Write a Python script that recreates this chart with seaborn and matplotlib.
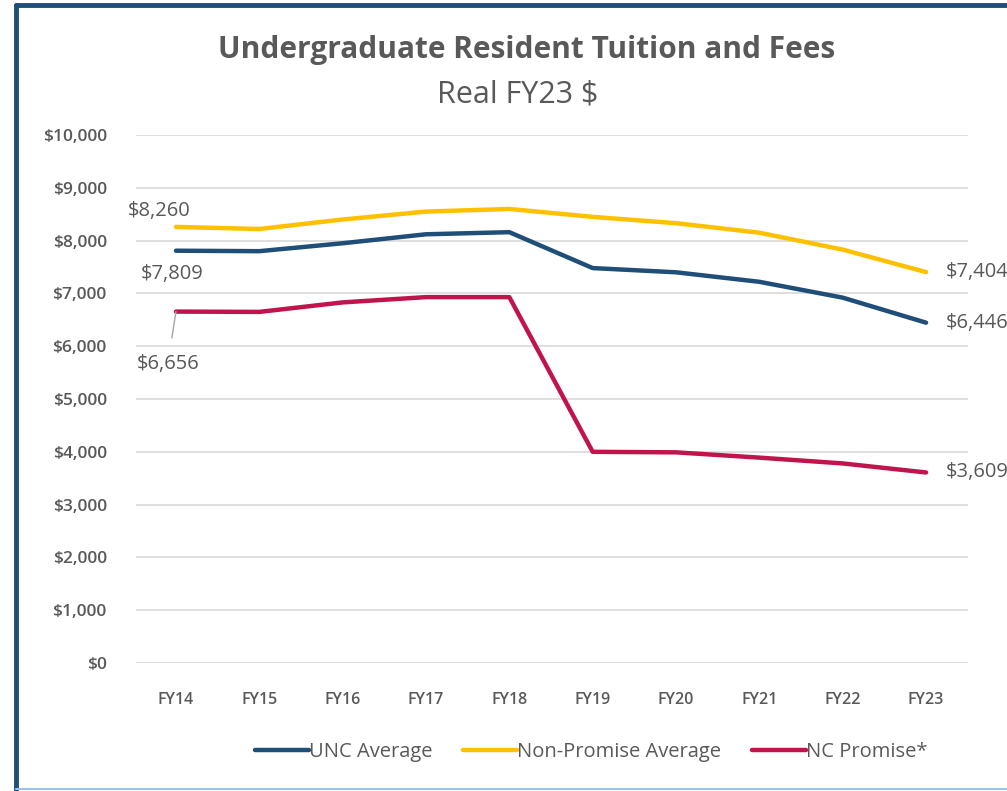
import numpy as np
import pandas as pd
import seaborn as sns
import matplotlib.pyplot as plt
from matplotlib.lines import Line2D

# Data
years = ["FY14", "FY15", "FY16", "FY17", "FY18", "FY19", "FY20", "FY21", "FY22", "FY23"]
unc_avg = [7809, 7800, 7950, 8120, 8160, 7480, 7400, 7220, 6920, 6446]
non_promise = [8260, 8220, 8400, 8550, 8600, 8450, 8330, 8150, 7830, 7404]
nc_promise = [6656, 6650, 6830, 6930, 6930, 4000, 3990, 3890, 3780, 3609]
series_names = ["UNC Average", "Non-Promise Average", "NC Promise*"]
colors = ["#1F4E79", "#FFC000", "#C0144C"]

df = pd.DataFrame({
    "year": years * 3,
    "x": list(range(len(years))) * 3,
    "value": unc_avg + non_promise + nc_promise,
    "series": np.repeat(series_names, len(years)),
})

sns.set_theme(style="white")
plt.rcParams['font.family'] = ['Open Sans', 'DejaVu Sans']
grey = "#595959"

fig = plt.figure(figsize=(10.07, 7.91), dpi=100)
ax = fig.add_axes([0.135, 0.1618, 0.826, 0.6675])

sns.lineplot(data=df, x="x", y="value", hue="series", palette=colors,
             hue_order=series_names, linewidth=3.2, ax=ax, legend=False)

ax.set_xlim(-0.48, 9.5)
ax.set_ylim(0, 10000)
ax.set_yticks(np.arange(0, 10001, 1000))
ax.set_yticklabels([f"${v:,}" for v in range(0, 10001, 1000)])
ax.set_xticks(range(len(years)))
ax.set_xticklabels(years)
ax.grid(axis="y", color="#d9d9d9", linewidth=1.2)
ax.set_axisbelow(True)
for s in ax.spines.values():
    s.set_visible(False)
ax.tick_params(axis="y", colors=grey, labelsize=12.5, length=0, pad=21)
ax.tick_params(axis="x", colors=grey, labelsize=11.5, length=0, pad=21)
for t in ax.get_xticklabels() + ax.get_yticklabels():
    t.set_fontweight("semibold")
ax.set_xlabel("")
ax.set_ylabel("")

# data labels
lab = dict(color=grey, fontsize=14.5, textcoords="offset pixels")
ax.annotate(f"${non_promise[0]:,}", (0, non_promise[0]), xytext=(-17, 16),
            ha="center", va="center", **lab)
ax.annotate(f"${unc_avg[0]:,}", (0, unc_avg[0]), xytext=(-4, -23),
            ha="center", va="center", **lab)
ax.annotate(f"${nc_promise[0]:,}", (0, nc_promise[0]), xytext=(-8, -52),
            ha="center", va="center",
            arrowprops=dict(arrowstyle="-", color="#a6a6a6", lw=1,
                            shrinkA=9, shrinkB=0), **lab)
for vals in (non_promise, unc_avg, nc_promise):
    ax.annotate(f"${vals[-1]:,}", (9, vals[-1]), xytext=(20, 0),
                ha="left", va="center", **lab)

# titles
fig.text(0.523, 0.937, "Undergraduate Resident Tuition and Fees", ha="center",
         va="center", fontsize=21.5, fontweight="bold", color=grey)
fig.text(0.514, 0.881, "Real FY23 $", ha="center", va="center",
         fontsize=22, color=grey)

# legend
handles = [Line2D([], [], color=c, linewidth=3.2) for c in colors]
fig.legend(handles, series_names, loc="center", bbox_to_anchor=(0.587, 0.049),
           ncol=3, frameon=False, fontsize=14.5, labelcolor=grey,
           handlelength=2.7, handletextpad=0.0, columnspacing=1.5)

# chart border (cropped screenshot look)
fig.add_artist(Line2D([0.016, 0.016], [0.0, 0.994], color="#1F4E79", lw=3.5,
                      transform=fig.transFigure))
fig.add_artist(Line2D([0.016, 1.0], [0.994, 0.994], color="#1F4E79", lw=3.5,
                      transform=fig.transFigure))
fig.add_artist(Line2D([0.016, 1.0], [0.002, 0.002], color="#9dc3e6", lw=1.5,
                      transform=fig.transFigure))

fig.savefig("out.png", dpi=100)
